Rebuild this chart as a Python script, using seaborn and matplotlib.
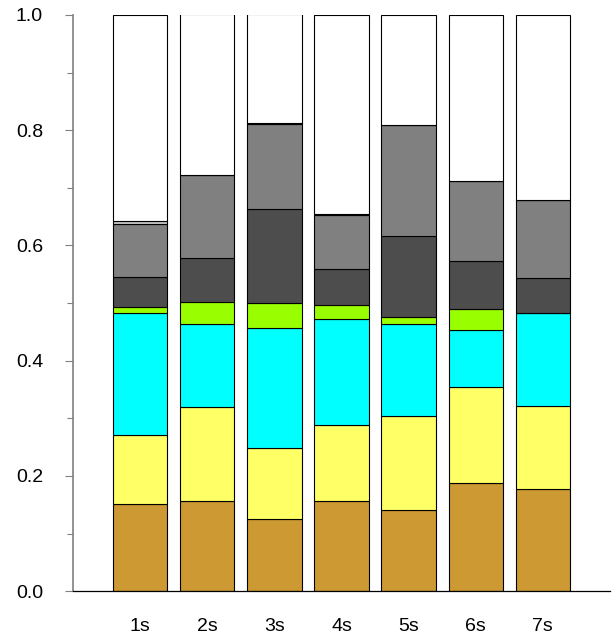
import seaborn as sns
import pandas as pd
import numpy as np
import matplotlib.pyplot as plt
from matplotlib.ticker import MultipleLocator

# categories and layer heights (bottom -> top)
cats = ["1s", "2s", "3s", "4s", "5s", "6s", "7s"]
brown = [0.152, 0.156, 0.126, 0.156, 0.141, 0.188, 0.177]
yellow = [0.119, 0.163, 0.123, 0.133, 0.163, 0.167, 0.145]
cyan = [0.211, 0.145, 0.207, 0.184, 0.160, 0.098, 0.160]
green = [0.011, 0.037, 0.044, 0.024, 0.011, 0.036, 0.000]
dgrey = [0.052, 0.077, 0.163, 0.062, 0.141, 0.084, 0.062]
grey = [0.093, 0.145, 0.147, 0.094, 0.193, 0.138, 0.134]
lgrey = [0.004, 0.000, 0.003, 0.001, 0.000, 0.000, 0.000]
white = [0.358, 0.278, 0.188, 0.346, 0.191, 0.289, 0.322]

layers = [brown, yellow, cyan, green, dgrey, grey, lgrey, white]
colors = ["#cc9933", "#ffff66", "#00ffff", "#99ff00", "#4d4d4d", "#808080", "#c8c8c8", "#ffffff"]

sns.set_style("white")
plt.rcParams['font.family'] = ['Liberation Sans', 'DejaVu Sans']

f, ax = plt.subplots(figsize=(6.13, 6.37), dpi=100)
f.subplots_adjust(left=0.119, right=0.995, bottom=0.072, top=0.9765)

bottom = np.zeros(len(cats))
for vals, c in zip(layers, colors):
    df = pd.DataFrame({"cat": cats, "val": vals})
    sns.barplot(data=df, x="cat", y="val", color=c, saturation=1, width=0.81,
                bottom=bottom, edgecolor="black", linewidth=0.8, ax=ax)
    bottom = bottom + np.array(vals)

ax.set_xlim(-1, 7)
ax.set_ylim(0, 1)
ax.set_xlabel("")
ax.set_ylabel("")
ax.yaxis.set_major_locator(MultipleLocator(0.2))
ax.yaxis.set_minor_locator(MultipleLocator(0.1))
ax.set_yticks(np.arange(0, 1.01, 0.2))
ax.set_yticklabels(["0.0", "0.2", "0.4", "0.6", "0.8", "1.0"])
ax.tick_params(axis="y", which="major", left=True, length=6, width=0.8, color="#808080",
               pad=15.5, labelsize=14, labelcolor="black")
ax.tick_params(axis="y", which="minor", left=True, length=4.5, width=0.8, color="#808080")
ax.tick_params(axis="x", bottom=False, pad=16, labelsize=14, labelcolor="black")

for s in ["top", "right"]:
    ax.spines[s].set_visible(False)
ax.spines["left"].set_color("#808080")
ax.spines["left"].set_linewidth(1.2)
ax.spines["bottom"].set_color("black")
ax.spines["bottom"].set_linewidth(0.9)

plt.savefig("out.png", dpi=100)
